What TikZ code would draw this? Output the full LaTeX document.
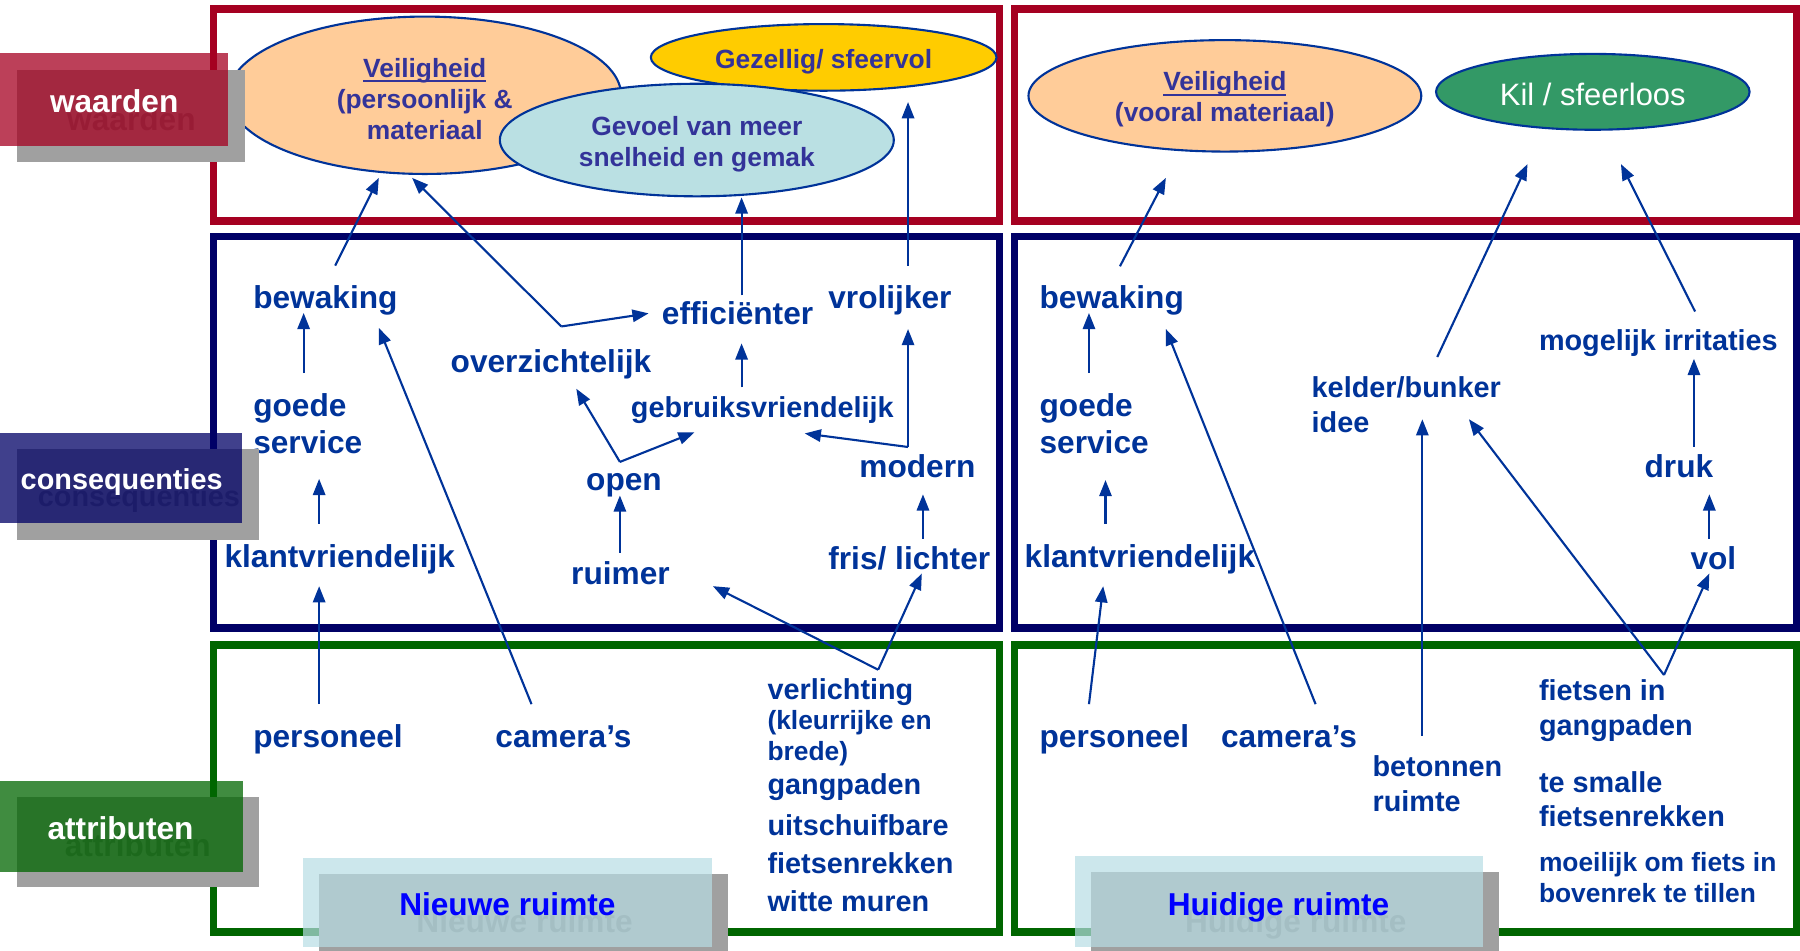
\documentclass[tikz,border=0pt]{standalone}
\usepackage{fontspec}
\setmainfont{Liberation Sans}
\usetikzlibrary{arrows.meta,shapes.geometric}

\definecolor{rood}{HTML}{A50021}
\definecolor{nvblauw}{HTML}{000066}
\definecolor{groen}{HTML}{006600}
\definecolor{tekst}{HTML}{003399}
\definecolor{elltekst}{HTML}{333399}
\definecolor{oranje}{HTML}{FFCC99}
\definecolor{geel}{HTML}{FFCC00}
\definecolor{ijsblauw}{HTML}{BAE0E3}
\definecolor{titelvlak}{HTML}{B7DDE4}
\definecolor{kilgroen}{HTML}{339966}
\definecolor{schaduw}{HTML}{A0A0A0}
\definecolor{titel}{HTML}{0000FF}

\newcommand\onderstreep[1]{\setbox0\hbox{#1}\rlap{\rule[-1.4pt]{\wd0}{0.6pt}}\box0}

\begin{document}
\begin{tikzpicture}[x=0.01148cm,y=-0.01148cm,
    arr/.style={draw=tekst,line width=0.6pt,-{Triangle[length=4.6pt,width=3.5pt]}},
    kader/.style={line width=2.1pt},
    ell/.style={ellipse,draw=tekst,line width=0.6pt,inner sep=0pt,align=center,text=elltekst,
        font=\bfseries\fontsize{7.5}{8.8}\selectfont},
    lbl/.style={anchor=west,inner sep=0pt,text=tekst,font=\bfseries\fontsize{9}{10.8}\selectfont,
        text height=7.75pt,text depth=1pt},
    lblm/.style={lbl,font=\bfseries\fontsize{8.2}{10}\selectfont,text height=7.15pt,text depth=0.8pt},
    lbls/.style={lbl,font=\bfseries\fontsize{7.5}{9}\selectfont,text height=6.6pt,text depth=0.65pt},
    mlbl/.style={anchor=north west,inner sep=0pt,align=left,text=tekst},
    cat/.style={inner sep=0pt,text=white,text height=7.75pt,text depth=1pt},
    catsch/.style={cat,text=black!55},
    titeltxt/.style={inner sep=0pt,text=titel,font=\bfseries\fontsize{9}{10.8}\selectfont,
        text height=8.05pt,text depth=0.7pt}]
    \useasboundingbox (0,0) rectangle (1568,828);

    % kaders
    \draw[kader,rood] (186,8) rectangle (870.5,192.5);
    \draw[kader,rood] (883.5,8) rectangle (1565,192.5);
    \draw[kader,nvblauw] (186,206) rectangle (870.5,547);
    \draw[kader,nvblauw] (883.5,206) rectangle (1565,547);
    \draw[kader,groen] (186,562) rectangle (870.5,812);
    \draw[kader,groen] (883.5,562) rectangle (1565,812);

    % waarden
    \node[ell,fill=oranje,minimum width=3.926cm,minimum height=1.573cm] (veill) at (370,83)
        {\rule{0pt}{7.5pt}\onderstreep{Veiligheid}\\(persoonlijk \&\\materiaal};
    \node[ell,fill=geel,minimum width=3.455cm,minimum height=0.666cm] (gezel) at (717.5,50)
        {\rule{0pt}{8.1pt}Gezellig/ sfeervol};
    \node[ell,fill=ijsblauw,minimum width=3.938cm,minimum height=1.125cm] (gevoel) at (607,122)
        {\rule{0pt}{7.9pt}Gevoel van meer\\snelheid en gemak};
    \node[ell,fill=oranje,minimum width=3.926cm,minimum height=1.114cm] (veilr) at (1067,83.5)
        {\rule{0pt}{7.5pt}\onderstreep{Veiligheid}\\(vooral materiaal)};
    \node[ell,fill=kilgroen,text=white,font=\fontsize{8.8}{10}\selectfont,
        minimum width=3.134cm,minimum height=0.758cm] (kil) at (1387.5,80) {\rule{0pt}{7.7pt}Kil / sfeerloos};

    % nieuwe ruimte
    \node[lbl] (lbew) at (220,258) {bewaking};
    \node[mlbl,font=\bfseries\fontsize{9}{10.74}\selectfont] (lgoede) at (220,341.8) {goede\\service};
    \node[lbl] (lklant) at (195,484) {klantvriendelijk};
    \node[lbl] (lovz) at (392,314) {overzichtelijk};
    \node[lbl] (leff) at (576,272) {efficiënter};
    \node[lbl] (lvrol) at (721,258) {vrolijker};
    \node[lblm] (lgebr) at (549,354) {gebruiksvriendelijk};
    \node[lbl] (lopen) at (510,417) {open};
    \node[lbl] (lmod) at (748,406) {modern};
    \node[lbl] (lruim) at (497,499) {ruimer};
    \node[lbl] (lfris) at (721,486) {fris/ lichter};
    \node[lbl] (lpers) at (220,641) {personeel};
    \node[lbl] (lcam) at (431,641) {camera’s};
    \node[lblm] (lverl) at (668,600) {verlichting};
    \node[lbls] (lverla) at (668,626) {(kleurrijke en};
    \node[lbls] (lverlb) at (668,653) {brede)};
    \node[lblm] (lgang) at (668,682) {gangpaden};
    \node[mlbl,font=\bfseries\fontsize{8.2}{10.7}\selectfont] (luits) at (668,709.2) {uitschuifbare\\fietsenrekken};
    \node[lblm] (lwit) at (668,784) {witte muren};

    % huidige ruimte
    \node[lbl] (rbew) at (905,258) {bewaking};
    \node[mlbl,font=\bfseries\fontsize{9}{10.74}\selectfont] (rgoede) at (905,341.8) {goede\\service};
    \node[lbl] (rklant) at (892,484) {klantvriendelijk};
    \node[mlbl,font=\bfseries\fontsize{8.2}{10.1}\selectfont] (rkeld) at (1142,327.2) {kelder/bunker\\idee};
    \node[lblm] (rirr) at (1340,296) {mogelijk irritaties};
    \node[lbl] (rdruk) at (1432,406) {druk};
    \node[lbl] (rvol) at (1472,486) {vol};
    \node[lbl] (rpers) at (905,641) {personeel};
    \node[lbl] (rcam) at (1063,641) {camera’s};
    \node[mlbl,font=\bfseries\fontsize{8.2}{10.1}\selectfont] (rbeton) at (1195,657.2) {betonnen\\ruimte};
    \node[mlbl,font=\bfseries\fontsize{8.2}{10.1}\selectfont] (rfiets) at (1340,591.2) {fietsen in\\gangpaden};
    \node[mlbl,font=\bfseries\fontsize{8.2}{9.8}\selectfont] (rsmal) at (1340,671.2) {te smalle\\fietsenrekken};
    \node[mlbl,font=\bfseries\fontsize{7.5}{8.8}\selectfont] (rmoei) at (1340,742.1) {moeilijk om fiets in\\bovenrek te tillen};

    % pijlen nieuwe ruimte
    \draw[arr] ([shift={(72,-12.6)}]lbew.north west) -- ([shift={(-40,2.5)}]veill.south);
    \coordinate (ovzpunt) at ([shift={(97,-15.6)}]lovz.north west);
    \draw[arr] (ovzpunt) -- ([shift={(-11,2.5)}]veill.south);
    \draw[arr] (ovzpunt) -- ([shift={(-11,1)}]leff.west);
    \draw[arr] ([shift={(97,-3.8)}]lgebr.north west) -- ([shift={(70,13.1)}]leff.south west);
    \draw[arr] ([shift={(70,-0.6)}]leff.north west) -- ([shift={(39,0)}]gevoel.south);
    \draw[arr] ([shift={(70,-12.6)}]lvrol.north west) -- ([shift={(73.5,9)}]gezel.south);
    \coordinate (modpunt) at ([shift={(43,-2.6)}]lmod.north west);
    \draw[arr] (modpunt) -- ([shift={(70,14.6)}]lvrol.south west);
    \draw[arr] (modpunt) -- ([shift={(152,10.8)}]lgebr.south west);
    \coordinate (openpunt) at ([shift={(30,-0.6)}]lopen.north west);
    \draw[arr] (openpunt) -- ([shift={(110,10.6)}]lovz.south west);
    \draw[arr] (openpunt) -- ([shift={(56,9.8)}]lgebr.south west);
    \draw[arr] ([shift={(43,-3.6)}]lruim.north west) -- ([shift={(30,0.6)}]lopen.south west);
    \draw[arr] ([shift={(83,-2.6)}]lfris.north west) -- ([shift={(56,10.6)}]lmod.south west);
    \draw[arr] ([shift={(44.5,-16.8)}]lgoede.north west) -- ([shift={(44.5,0.6)}]lbew.south west);
    \draw[arr] ([shift={(83,-13.6)}]lklant.north west) -- ([shift={(58,21)}]lgoede.south west);
    \draw[arr] ([shift={(58,-13.6)}]lpers.north west) -- ([shift={(83,12.6)}]lklant.south west);
    \draw[arr] ([shift={(32,-13.6)}]lcam.north west) -- ([shift={(110,13.6)}]lbew.south west);
    \coordinate (verlpunt) at ([shift={(97,-3.8)}]lverl.north west);
    \draw[arr] (verlpunt) -- ([shift={(124,-2.4)}]lruim.south west);
    \draw[arr] (verlpunt) -- ([shift={(82,-0.4)}]lfris.south west);

    % pijlen huidige ruimte
    \draw[arr] ([shift={(70.6,-12)}]rbew.north west) -- ([shift={(-51.4,22)}]veilr.south);
    \draw[arr] ([shift={(43.6,-16.8)}]rgoede.north west) -- ([shift={(43.6,0.6)}]rbew.south west);
    \draw[arr] ([shift={(71,-13.6)}]rklant.north west) -- ([shift={(58,22)}]rgoede.south west);
    \draw[arr] ([shift={(43.6,-13.6)}]rpers.north west) -- ([shift={(69,12.6)}]rklant.south west);
    \draw[arr] ([shift={(83,-13.6)}]rcam.north west) -- ([shift={(110.6,14.6)}]rbew.south west);
    \draw[arr] ([shift={(110,-16.2)}]rkeld.north west) -- ([shift={(-56.9,29)}]kil.south);
    \draw[arr] ([shift={(136.6,-11.8)}]rirr.north west) -- ([shift={(24.5,29)}]kil.south);
    \draw[arr] ([shift={(43.6,-2.6)}]rdruk.north west) -- ([shift={(135.6,3.8)}]rirr.south west);
    \draw[arr] ([shift={(17,-2.6)}]rvol.north west) -- ([shift={(57,10.6)}]rdruk.south west);
    \draw[arr] ([shift={(44,-16.2)}]rbeton.north west) -- ([shift={(97,-12.6)}]rkeld.south west);
    \coordinate (fietspunt) at ([shift={(109.5,-3.2)}]rfiets.north west);
    \draw[arr] (fietspunt) -- ([shift={(137.6,-12.6)}]rkeld.south west);
    \draw[arr] (fietspunt) -- ([shift={(17,-0.4)}]rvol.south west);

    % labels links
    \fill[schaduw] (15,61) rectangle (213,141);
    \node[catsch,font=\bfseries\fontsize{9}{10.8}\selectfont] (waardensch) at (114.5,103) {waarden};
    \fill[rood,fill opacity=0.75] (0,46) rectangle (199,127);
    \node[cat,font=\bfseries\fontsize{9}{10.8}\selectfont] (waarden) at (99.5,88) {waarden};

    \fill[schaduw] (15,391) rectangle (226,470);
    \node[catsch,font=\bfseries\fontsize{8.2}{10}\selectfont] (conseqsch) at (121,431) {consequenties};
    \fill[nvblauw,fill opacity=0.75] (0,377) rectangle (211,456);
    \node[cat,font=\bfseries\fontsize{8.2}{10}\selectfont] (conseq) at (106,416) {consequenties};

    \fill[schaduw] (15,694) rectangle (226,773);
    \node[catsch,font=\bfseries\fontsize{9}{10.8}\selectfont] (attribsch) at (120,736) {attributen};
    \fill[groen,fill opacity=0.75] (0,680) rectangle (212,760);
    \node[cat,font=\bfseries\fontsize{9}{10.8}\selectfont] (attrib) at (105,721) {attributen};

    % titels
    \fill[schaduw] (278,761) rectangle (634,840);
    \node[titeltxt,text=black!53] (nieuwsch) at (457,801) {Nieuwe ruimte};
    \fill[titelvlak,fill opacity=0.7] (264,747) rectangle (620,825);
    \node[titeltxt] (nieuw) at (442,786) {Nieuwe ruimte};

    \fill[schaduw] (950,760) rectangle (1306,840);
    \node[titeltxt,text=black!53] (huidigsch) at (1128.75,801) {Huidige ruimte};
    \fill[titelvlak,fill opacity=0.7] (936,746) rectangle (1291.5,825);
    \node[titeltxt] (huidig) at (1113.75,786) {Huidige ruimte};
\end{tikzpicture}
\end{document}
